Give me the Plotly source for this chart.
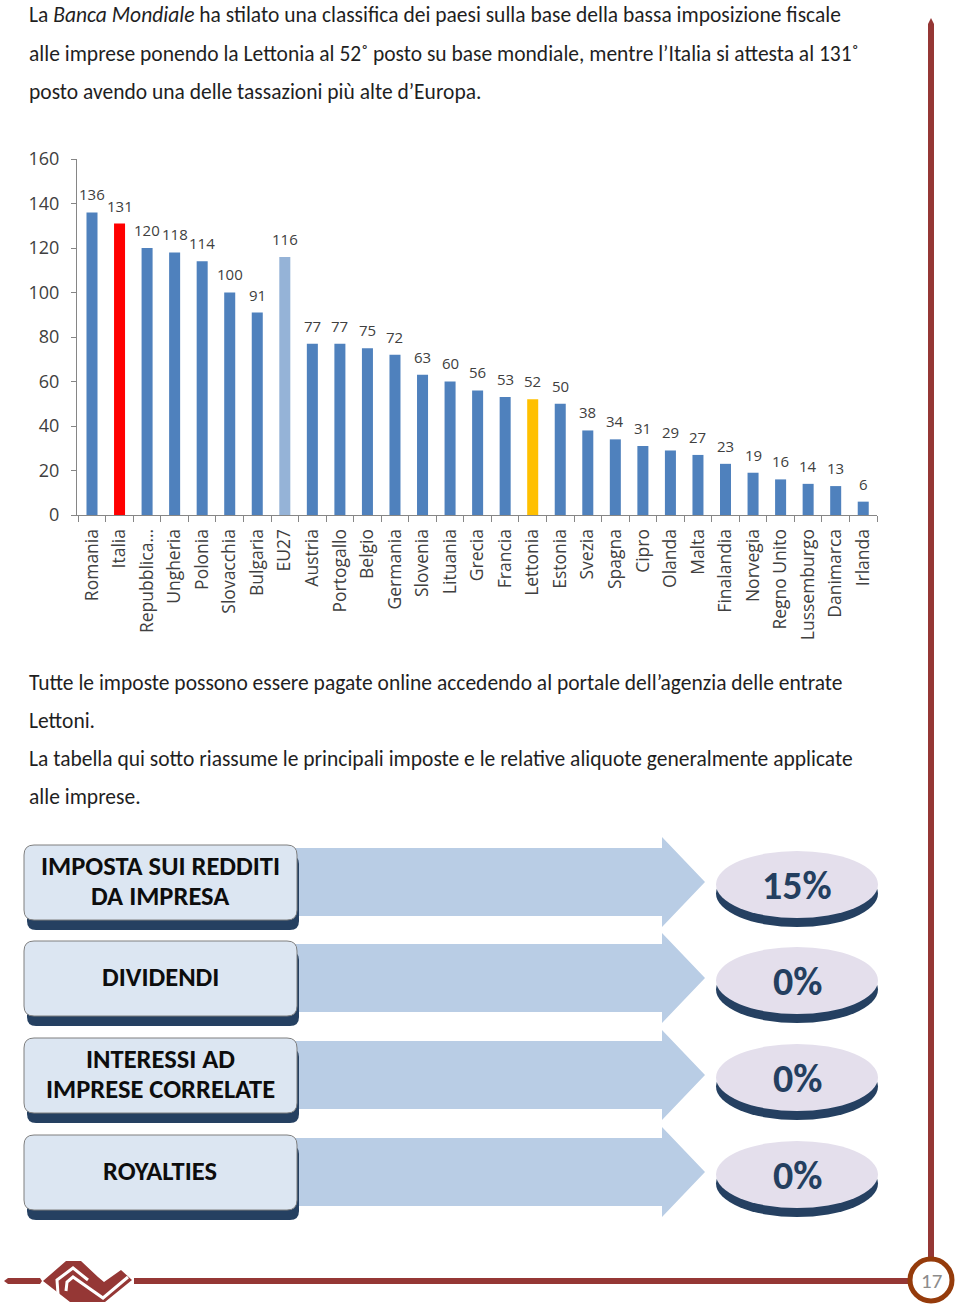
import plotly.graph_objects as go

W, H = 960, 1311

countries = [
    "Romania", "Italia", "Repubblica…", "Ungheria", "Polonia", "Slovacchia",
    "Bulgaria", "EU27", "Austria", "Portogallo", "Belgio", "Germania",
    "Slovenia", "Lituania", "Grecia", "Francia", "Lettonia", "Estonia",
    "Svezia", "Spagna", "Cipro", "Olanda", "Malta", "Finalandia", "Norvegia",
    "Regno Unito", "Lussemburgo", "Danimarca", "Irlanda",
]
ranks = [136, 131, 120, 118, 114, 100, 91, 116, 77, 77, 75, 72, 63, 60, 56,
         53, 52, 50, 38, 34, 31, 29, 27, 23, 19, 16, 14, 13, 6]
y_ticks = [0, 20, 40, 60, 80, 100, 120, 140, 160]

tax_names = [
    ["IMPOSTA SUI REDDITI", "DA IMPRESA"],
    ["DIVIDENDI"],
    ["INTERESSI AD", "IMPRESE CORRELATE"],
    ["ROYALTIES"],
]
tax_rates = ["15%", "0%", "0%", "0%"]

intro_lines = [
    "La <i>Banca Mondiale</i> ha stilato una classifica dei paesi sulla base della bassa imposizione fiscale",
    "alle imprese ponendo la Lettonia al 52˚ posto su base mondiale, mentre l’Italia si attesta al 131˚",
    "posto avendo una delle tassazioni più alte d’Europa.",
]
outro_lines = [
    "Tutte le imposte possono essere pagate online accedendo al portale dell’agenzia delle entrate",
    "Lettoni.",
    "La tabella qui sotto riassume le principali imposte e le relative aliquote generalmente applicate",
    "alle imprese.",
]

BAR_BLUE = "#4f81bd"
HIGHLIGHT = {"Italia": "#ff0000", "EU27": "#95b3d7", "Lettonia": "#ffc000"}
DARK_RED = "#953735"
NAVY = "#254061"
TEXT_FONT = "Carlito, 'Liberation Sans Narrow', 'Open Sans', sans-serif"
CHART_FONT = "'Open Sans', 'DejaVu Sans', sans-serif"


def px(x):
    return x / W


def py(y):
    return 1 - y / H


def rounded_rect(x0, y0, x1, y1, r):
    """SVG path of a rounded rectangle, pixel input, paper output."""
    pts = [
        f"M {px(x0 + r)} {py(y0)}",
        f"L {px(x1 - r)} {py(y0)}",
        f"Q {px(x1)} {py(y0)} {px(x1)} {py(y0 + r)}",
        f"L {px(x1)} {py(y1 - r)}",
        f"Q {px(x1)} {py(y1)} {px(x1 - r)} {py(y1)}",
        f"L {px(x0 + r)} {py(y1)}",
        f"Q {px(x0)} {py(y1)} {px(x0)} {py(y1 - r)}",
        f"L {px(x0)} {py(y0 + r)}",
        f"Q {px(x0)} {py(y0)} {px(x0 + r)} {py(y0)}",
        "Z",
    ]
    return " ".join(pts)


def poly(points, closed=True):
    d = " ".join(("M" if i == 0 else "L") + f" {px(x)} {py(y)}" for i, (x, y) in enumerate(points))
    return d + (" Z" if closed else "")


def page_text(x, y, text, size, color, anchor="center", family=TEXT_FONT):
    return dict(
        x=px(x), y=py(y), xref="paper", yref="paper", text=text,
        showarrow=False, xanchor=anchor, yanchor="middle",
        font=dict(family=family, size=size, color=color),
    )


bar_colors = [HIGHLIGHT.get(c, BAR_BLUE) for c in countries]

fig = go.Figure(
    go.Bar(
        x=countries,
        y=ranks,
        marker=dict(color=bar_colors, line=dict(width=0)),
        hoverinfo="x+y",
    )
)

shapes = []
annotations = []

# value labels above bars
for c, v in zip(countries, ranks):
    annotations.append(dict(
        x=c, y=v, xref="x", yref="y", text=str(v), showarrow=False,
        xanchor="center", yanchor="middle", yshift=18,
        font=dict(family=CHART_FONT, size=15, color="#404040"),
    ))

# page text
for i, line in enumerate(intro_lines):
    annotations.append(page_text(27, 15 + i * 38.5, line, 21.5, "#1f1f1f", anchor="left"))
for i, line in enumerate(outro_lines):
    annotations.append(page_text(27, 683 + i * 38, line, 21.5, "#1f1f1f", anchor="left"))

# tax table
row_centers = [882, 978, 1075, 1172]
for name_lines, rate, c in zip(tax_names, tax_rates, row_centers):
    # arrow
    shapes.append(dict(
        type="path", xref="paper", yref="paper", layer="below",
        path=poly([(290, c - 34), (662, c - 34), (662, c - 45), (705, c),
                   (662, c + 45), (662, c + 34), (290, c + 34)]),
        fillcolor="#b9cde5", line=dict(width=0),
    ))
    # box shadow + box
    shapes.append(dict(
        type="path", xref="paper", yref="paper",
        path=rounded_rect(27, c - 27, 299, c + 48, 9),
        fillcolor=NAVY, line=dict(width=0),
    ))
    shapes.append(dict(
        type="path", xref="paper", yref="paper",
        path=rounded_rect(24, c - 37, 297, c + 38, 10),
        fillcolor="#dce6f2", line=dict(color="#7f7f7f", width=1),
    ))
    # disc
    shapes.append(dict(
        type="circle", xref="paper", yref="paper",
        x0=px(716), x1=px(878), y0=py(c + 45), y1=py(c - 22),
        fillcolor=NAVY, line=dict(width=0),
    ))
    shapes.append(dict(
        type="circle", xref="paper", yref="paper",
        x0=px(716), x1=px(878), y0=py(c + 36), y1=py(c - 31),
        fillcolor="#e4dfec", line=dict(width=0),
    ))
    n = len(name_lines)
    for k, txt in enumerate(name_lines):
        ly = c - 1 + (k - (n - 1) / 2) * 30
        annotations.append(page_text(160, ly, f"<b>{txt}</b>", 26.5, "#0d0d0d"))
    annotations.append(page_text(797, c + 3, f"<b>{rate}</b>", 40, "#243f60"))

# page frame: vertical and horizontal rules, page-number ring
shapes.append(dict(type="path", xref="paper", yref="paper",
                   path=poly([(928, 1258), (928, 24), (931, 18), (934, 24), (934, 1258)]),
                   fillcolor=DARK_RED, line=dict(width=0)))
shapes.append(dict(type="line", xref="paper", yref="paper",
                   x0=px(134), x1=px(909), y0=py(1281), y1=py(1281),
                   line=dict(color=DARK_RED, width=6)))
shapes.append(dict(type="path", xref="paper", yref="paper",
                   path=poly([(4, 1281), (8, 1278), (40, 1278), (42, 1281), (40, 1284), (8, 1284)]),
                   fillcolor=DARK_RED, line=dict(width=0)))
shapes.append(dict(type="circle", xref="paper", yref="paper",
                   x0=px(910), x1=px(952), y0=py(1301), y1=py(1259),
                   fillcolor="white", line=dict(color="#953b0b", width=5)))
annotations.append(page_text(931, 1281, "17", 21, "#8c8c8c"))

# logo: filled diamond with white cut lines
shapes.append(dict(type="path", xref="paper", yref="paper",
                   path=poly([(43, 1281), (66, 1261), (81, 1261), (98, 1277), (104, 1282),
                              (121, 1270), (132, 1280), (105, 1302), (70, 1302)]),
                   fillcolor=DARK_RED, line=dict(width=0)))
shapes.append(dict(type="path", xref="paper", yref="paper",
                   path=poly([(58, 1294), (57, 1280), (73, 1268), (88, 1280)], closed=False),
                   line=dict(color="white", width=3)))
shapes.append(dict(type="path", xref="paper", yref="paper",
                   path=poly([(66, 1291), (67, 1282), (73, 1277), (103, 1298), (128, 1277)], closed=False),
                   line=dict(color="white", width=3)))

fig.update_layout(
    width=W,
    height=H,
    margin=dict(l=0, r=0, t=0, b=0, autoexpand=False),
    paper_bgcolor="white",
    plot_bgcolor="white",
    showlegend=False,
    bargap=0.6,
    shapes=shapes,
    annotations=annotations,
)
fig.update_xaxes(
    domain=[px(77), px(877)],
    type="category",
    tickangle=-90,
    tickfont=dict(family=CHART_FONT, size=17.5, color="#404040"),
    showline=True, linecolor="#868686", linewidth=1,
    ticks="outside", tickson="boundaries", ticklen=6, tickcolor="#868686",
    ticklabelstandoff=6,
    showgrid=False, fixedrange=True,
)
fig.update_yaxes(
    domain=[py(515), py(159)],
    range=[0, 160],
    tickvals=y_ticks,
    tickfont=dict(family=CHART_FONT, size=18, color="#404040"),
    showline=True, linecolor="#868686", linewidth=1,
    ticks="outside", ticklen=5, tickcolor="#868686", ticklabelstandoff=8,
    showgrid=False, zeroline=False, fixedrange=True,
)

fig.write_html(
    "out.html",
    config={"displayModeBar": False},
    post_script="document.body.style.margin='0';document.body.style.overflow='hidden';",
)
